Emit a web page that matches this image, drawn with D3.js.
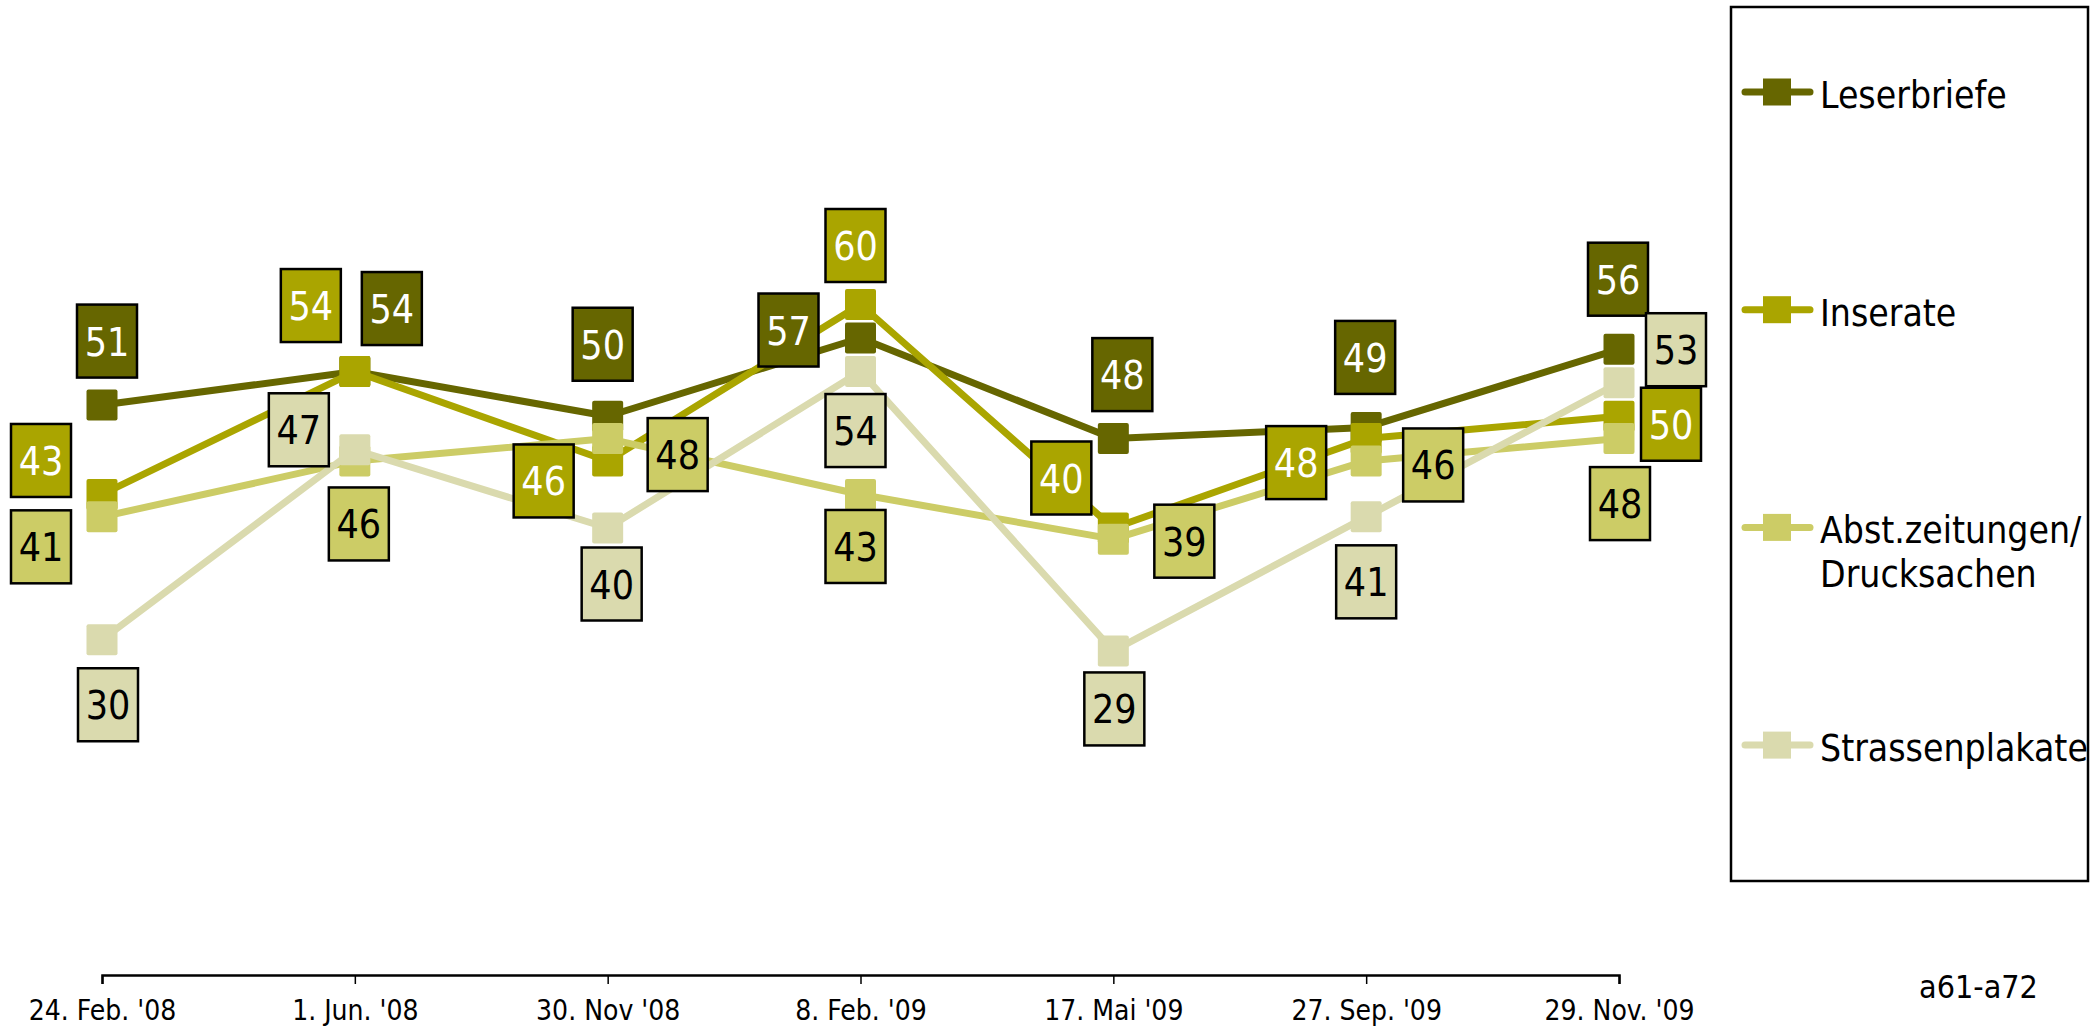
<!DOCTYPE html>
<html>
<head>
<meta charset="utf-8">
<script src="https://cdn.jsdelivr.net/npm/d3@7"></script>
<style>
  body { margin: 0; background: #fff; }
  svg { display: block; }
  text { font-family: "DejaVu Sans Condensed", "DejaVu Sans", sans-serif; font-stretch: condensed; }
</style>
</head>
<body>
<div id="chart"></div>
<script>
// survey dates (x categories)
var dates = ["24. Feb. '08", "1. Jun. '08", "30. Nov '08", "8. Feb. '09", "17. Mai '09", "27. Sep. '09", "29. Nov. '09"];

// series values (percent)
var leserbriefe     = [51, 54, 50, 57, 48, 49, 56];
var inserate        = [43, 54, 46, 60, 40, 48, 50];
var abstZeitungen   = [41, 46, 48, 43, 39, 46, 48];
var strassenplakate = [30, 47, 40, 54, 29, 41, 53];

var seriesNames = ["Leserbriefe", "Inserate", "Abst.zeitungen/\nDrucksachen", "Strassenplakate"];
var sourceNote = "a61-a72";

// styling / layout
var colors    = ["#666600", "#aaa500", "#cccc66", "#dadaae"];
var textColor = ["#ffffff", "#ffffff", "#000000", "#000000"];
// where each value label sits relative to its point [dx, dy]
var labelOffsets = [
  [[5, -64], [37, -63], [-5, -72], [-72, -8], [9, -64], [-1, -70], [-1, -70]],
  [[-61, -34], [-44, -66], [-64, 20], [-5, -59], [-52, -50], [-70, 24], [52, 8]],
  [[-61, 30], [4, 63], [70, 16], [-5, 52], [71, 2], [67, 4], [1, 65]],
  [[6, 65], [-56, -20], [4, 56], [-5, 59], [1, 58], [0, 65], [57, -33]]
];

var seriesValues = [leserbriefe, inserate, abstZeitungen, strassenplakate];

var W = 2099, H = 1028;
var svg = d3.select("#chart").append("svg")
    .attr("width", W)
    .attr("height", H);

var x = d3.scalePoint().domain(dates).range([102, 1619]);
var y = d3.scaleLinear().domain([0, 80]).range([975, 81]);

// x axis
var axis = svg.append("g")
    .attr("transform", "translate(0," + y(0) + ")")
    .call(d3.axisBottom(x).tickSize(9).tickPadding(16));
axis.select(".domain").attr("stroke", "#000").attr("stroke-width", 2.5);
axis.selectAll(".tick line").attr("stroke", "#000").attr("stroke-width", 1.5);
axis.selectAll(".tick text")
    .attr("fill", "#000")
    .style("font-size", "28px")
    .style("font-family", "'DejaVu Sans Condensed', 'DejaVu Sans', sans-serif");

var line = d3.line()
    .x(function(d, i) { return x(dates[i]); })
    .y(function(d) { return y(d); })
    .curve(d3.curveLinear);

var mk = 31;

// lines + markers, one series at a time
seriesValues.forEach(function(vals, s) {
  var g = svg.append("g").attr("class", "series");
  g.append("path")
    .datum(vals)
    .attr("d", line)
    .attr("fill", "none")
    .attr("stroke", colors[s])
    .attr("stroke-width", 7)
    .attr("stroke-linejoin", "round");
  g.selectAll("rect")
    .data(vals)
    .enter().append("rect")
    .attr("x", function(d, i) { return x(dates[i]) - mk / 2; })
    .attr("y", function(d) { return y(d) - mk / 2; })
    .attr("width", mk)
    .attr("height", mk)
    .attr("rx", 2)
    .attr("fill", colors[s]);
});

// value labels on top
seriesValues.forEach(function(vals, s) {
  var lab = svg.append("g").selectAll("g")
    .data(vals)
    .enter().append("g")
    .attr("transform", function(d, i) {
      var o = labelOffsets[s][i];
      return "translate(" + (x(dates[i]) + o[0]) + "," + (y(d) + o[1]) + ")";
    });
  lab.append("rect")
    .attr("x", -30).attr("y", -36.5)
    .attr("width", 60).attr("height", 73)
    .attr("fill", colors[s])
    .attr("stroke", "#000")
    .attr("stroke-width", 2.5);
  lab.append("text")
    .attr("text-anchor", "middle")
    .attr("y", 14.5)
    .attr("fill", textColor[s])
    .style("font-size", "39px")
    .text(function(d) { return d; });
});

// legend
var legend = svg.append("g");
legend.append("rect")
  .attr("x", 1731).attr("y", 7)
  .attr("width", 357).attr("height", 874)
  .attr("fill", "none")
  .attr("stroke", "#000")
  .attr("stroke-width", 2.5);

var item = legend.selectAll("g.item")
  .data(seriesNames)
  .enter().append("g")
  .attr("class", "item")
  .attr("transform", function(d, i) { return "translate(0," + (92 + i * 217.7) + ")"; });
item.append("line")
  .attr("x1", 1745).attr("x2", 1810)
  .attr("stroke", function(d, i) { return colors[i]; })
  .attr("stroke-width", 7)
  .attr("stroke-linecap", "round");
item.append("rect")
  .attr("x", 1763).attr("y", -13.5)
  .attr("width", 28).attr("height", 27)
  .attr("fill", function(d, i) { return colors[i]; });
item.append("text")
  .attr("x", 1820)
  .attr("y", 16)
  .attr("fill", "#000")
  .style("font-size", "37px")
  .selectAll("tspan")
  .data(function(d) { return d.split("\n"); })
  .enter().append("tspan")
  .attr("x", 1820)
  .attr("dy", function(d, i) { return i === 0 ? 0 : 44; })
  .text(function(d) { return d; });

svg.append("text")
  .attr("x", 1919)
  .attr("y", 998)
  .attr("fill", "#000")
  .style("font-size", "32px")
  .text(sourceNote);
</script>
</body>
</html>
